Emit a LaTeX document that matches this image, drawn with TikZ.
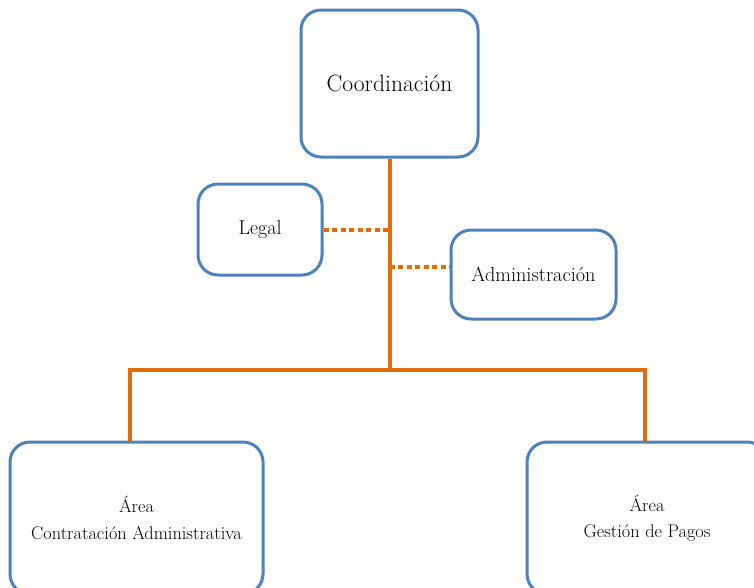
\documentclass[tikz,border=0pt]{standalone}
\usepackage{fontspec}
\begin{document}
\begin{tikzpicture}[x=1pt,y=-1pt,
  box/.style={draw=boxblue, line width=3pt, rounded corners=20pt, fill=white, inner sep=0pt, align=center},
  tree/.style={draw=lineorange, line width=4pt},
  dotline/.style={draw=lineorange, line width=4.5pt, dash pattern=on 5pt off 3.5pt}
]
\definecolor{boxblue}{RGB}{79,129,189}
\definecolor{lineorange}{RGB}{228,108,10}
\useasboundingbox (0,0) rectangle (754,587);
\clip (0,0) rectangle (754,587);
\fill[white] (0,0) rectangle (754,587);
\node[box, minimum width=177pt, minimum height=147pt, font=\fontsize{23.6}{28}\selectfont] (coord) at (389.5,83.5) {Coordinación};
\node[box, minimum width=124pt, minimum height=91pt, font=\fontsize{20}{24}\selectfont] (legal) at (260,229.5) {Legal};
\node[box, minimum width=165pt, minimum height=89pt, font=\fontsize{20.3}{24}\selectfont] (admin) at (533.5,274.5) {Administración};
\node[box, minimum width=253pt, minimum height=152pt, font=\fontsize{18.3}{27}\selectfont] (left) at (136.5,518) {Área\\[-0.5pt]Contratación Administrativa};
\node[box, minimum width=240pt, minimum height=152pt, font=\fontsize{18.3}{27}\selectfont] (right) at (647,518) {Área\\[-0.5pt]Gestión de Pagos};
\coordinate (hub) at (389.5,369.5);
\coordinate (tl) at (130,369.5);
\coordinate (tr) at (645,369.5);
\coordinate (dl) at (389.5,230);
\coordinate (dr) at (389.5,267);
\draw[tree] (coord.south) -- (hub);
\draw[tree, line cap=rect] (tl) -- (tr);
\draw[tree] (tl) -- (tl |- left.north);
\draw[tree] (tr) -- (tr |- right.north);
\draw[dotline] (legal.east |- dl) -- (dl);
\draw[dotline] (dr) -- (admin.west |- dr);
\end{tikzpicture}
\end{document}
